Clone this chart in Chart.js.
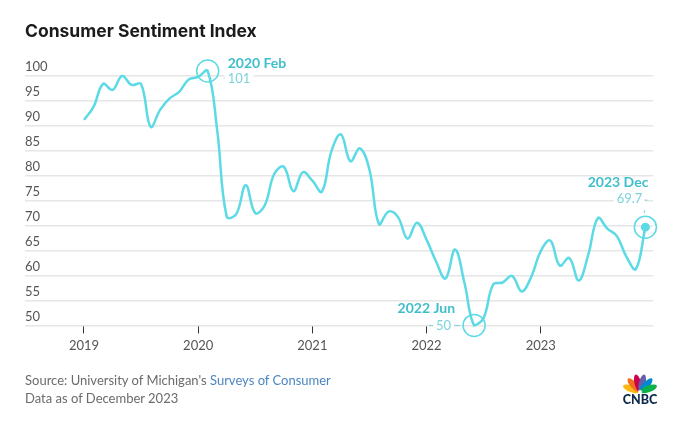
<!DOCTYPE html>
<html>
<head>
<meta charset="utf-8">
<script src="https://cdn.jsdelivr.net/npm/chart.js@4.4.1/dist/chart.umd.min.js"></script>
<style>
    html, body { margin: 0; padding: 0; background: #fff; }
    #wrap { position: relative; width: 673px; height: 426px; overflow: hidden; }
    #chart { position: absolute; left: 0; top: 0; }
    .title { position: absolute; left: 25px; top: 20px; font: 700 17.5px Inter, sans-serif; color: #1b1b1b; letter-spacing: 0px; }
    .foot { position: absolute; left: 25px; font: 400 13px Lato, sans-serif; color: #6b6b6b; }
    .foot a { color: #4b85c2; text-decoration: none; }
    #logo { position: absolute; left: 619px; top: 370px; }
</style>
</head>
<body>
<div id="wrap">
    <canvas id="chart" width="673" height="426"></canvas>
    <div class="title">Consumer Sentiment Index</div>
    <div class="foot" style="top:372px">Source: University of Michigan's <a>Surveys of Consumer</a></div>
    <div class="foot" style="top:390px">Data as of December 2023</div>
    <svg id="logo" width="42" height="38" viewBox="0 0 42 38">
        <g transform="translate(21,22)">
            <ellipse cx="0" cy="-9" rx="3.3" ry="9" fill="#fcb711" transform="rotate(-70)"/>
            <ellipse cx="0" cy="-9" rx="3.3" ry="9" fill="#f37021" transform="rotate(-42)"/>
            <ellipse cx="0" cy="-9" rx="3.3" ry="9" fill="#cc004c" transform="rotate(-14)"/>
            <ellipse cx="0" cy="-9" rx="3.3" ry="9" fill="#6460aa" transform="rotate(14)"/>
            <ellipse cx="0" cy="-9" rx="3.3" ry="9" fill="#0089d0" transform="rotate(42)"/>
            <ellipse cx="0" cy="-9" rx="3.3" ry="9" fill="#0db14b" transform="rotate(70)"/>
            <circle cx="0" cy="0" r="2" fill="#fff"/>
        </g>
        <text x="21" y="34" text-anchor="middle" font-family="Lato, sans-serif" font-weight="900" font-size="12.5" fill="#0b2a4a">CNBC</text>
    </svg>
</div>
<script>
// monthly index values, Jan..Dec
const years = ['2019', '2020', '2021', '2022', '2023'];
const values2019 = [91.2, 93.8, 98.4, 97.2, 100.0, 98.2, 98.4, 89.8, 93.2, 95.5, 96.8, 99.3];
const values2020 = [99.8, 101.0, 89.1, 71.8, 72.3, 78.1, 72.5, 74.1, 80.4, 81.8, 76.9, 80.7];
const values2021 = [79.0, 76.8, 84.9, 88.3, 82.9, 85.5, 81.2, 70.3, 72.8, 71.7, 67.4, 70.6];
const values2022 = [67.2, 62.8, 59.4, 65.2, 58.4, 50.0, 51.5, 58.2, 58.6, 59.9, 56.8, 59.7];
const values2023 = [64.9, 67.0, 62.0, 63.5, 59.0, 64.2, 71.5, 69.4, 67.9, 63.8, 61.3, 69.7];
const yTicks = [50, 55, 60, 65, 70, 75, 80, 85, 90, 95, 100];

const highlights = [
    { year: '2020', month: 'Feb', pos: 'right' },
    { year: '2022', month: 'Jun', pos: 'left' },
    { year: '2023', month: 'Dec', pos: 'above' }
];

const monthNames = ['Jan', 'Feb', 'Mar', 'Apr', 'May', 'Jun', 'Jul', 'Aug', 'Sep', 'Oct', 'Nov', 'Dec'];
const allValues = [].concat(values2019, values2020, values2021, values2022, values2023);
const points = allValues.map((v, i) => ({ x: i, y: v }));
const yearStarts = years.map((y, i) => i * 12);

const lineColor = '#5cdae5';
const labelColor = '#3fbfcb';
const valueColor = '#7ad3db';

function fmt(v) { return Number.isInteger(v) ? String(v) : v.toFixed(1); }

const highlightPlugin = {
    id: 'highlights',
    afterDatasetsDraw(chart) {
        const ctx = chart.ctx;
        const xs = chart.scales.x, ys = chart.scales.y;
        highlights.forEach(h => {
            const idx = years.indexOf(h.year) * 12 + monthNames.indexOf(h.month);
            const val = allValues[idx];
            const px = xs.getPixelForValue(idx), py = ys.getPixelForValue(val);
            ctx.save();
            ctx.strokeStyle = lineColor;
            ctx.lineWidth = 1.5;
            ctx.beginPath();
            ctx.arc(px, py, 11, 0, Math.PI * 2);
            ctx.stroke();

            const title = h.year + ' ' + h.month;
            const text = fmt(val);
            ctx.textBaseline = 'middle';
            let tx, ty, vx, vy, align;
            if (h.pos === 'right') {
                align = 'left'; tx = px + 20; ty = py - 8; vx = px + 20; vy = py + 8;
            } else if (h.pos === 'left') {
                align = 'right'; tx = px - 19; ty = py - 17; vx = px - 23; vy = py;
            } else {
                align = 'right'; tx = px + 3; ty = py - 45; vx = px - 3; vy = py - 28;
                ctx.fillStyle = lineColor;
                ctx.beginPath();
                ctx.arc(px, py, 4.5, 0, Math.PI * 2);
                ctx.fill();
            }
            ctx.textAlign = align;
            ctx.font = '400 13px Lato, sans-serif';
            const w = ctx.measureText(text).width;
            const left = align === 'left' ? vx : vx - w;
            ctx.fillStyle = '#fff';
            ctx.fillRect(left - 3, vy - 7, w + 6, 14);
            ctx.fillStyle = valueColor;
            ctx.fillText(text, vx, vy);

            // small dashes next to the value
            ctx.strokeStyle = valueColor;
            ctx.lineWidth = 1;
            ctx.beginPath();
            if (h.pos === 'right') {
                ctx.moveTo(left - 4, vy - 1); ctx.lineTo(left - 3, vy - 1);
            } else if (h.pos === 'left') {
                ctx.moveTo(left - 7, vy); ctx.lineTo(left - 3, vy);
                ctx.moveTo(left + w + 3, vy); ctx.lineTo(left + w + 9, vy);
            } else {
                ctx.moveTo(left + w + 2, vy + 1); ctx.lineTo(left + w + 5, vy + 1);
                ctx.moveTo(px - 1, py - 17); ctx.lineTo(px - 1, py - 14);
            }
            ctx.stroke();

            ctx.font = '700 14px Lato, sans-serif';
            ctx.fillStyle = labelColor;
            ctx.fillText(title, tx, ty);
            ctx.restore();
        });
    }
};

new Chart(document.getElementById('chart'), {
    type: 'line',
    data: {
        datasets: [{
            data: points,
            borderColor: lineColor,
            borderWidth: 2.5,
            pointRadius: 0,
            tension: 0.4,
            clip: false
        }]
    },
    options: {
        responsive: false,
        animation: false,
        layout: { padding: { left: 25, right: 20, top: 66, bottom: 67 } },
        plugins: { legend: { display: false }, tooltip: { enabled: false } },
        scales: {
            x: {
                type: 'linear',
                min: -6.2,
                max: 59.8,
                afterBuildTicks: s => { s.ticks = yearStarts.map(v => ({ value: v })); },
                ticks: {
                    autoSkip: false,
                    maxRotation: 0,
                    padding: 5,
                    color: '#555',
                    font: { family: 'Lato, sans-serif', size: 13 },
                    callback: v => years[yearStarts.indexOf(v)]
                },
                grid: { drawOnChartArea: false, drawTicks: true, tickLength: 8, color: '#333', lineWidth: 1 },
                border: { display: false }
            },
            y: {
                min: 50,
                max: 102,
                afterBuildTicks: s => { s.ticks = yTicks.map(v => ({ value: v })); },
                ticks: {
                    mirror: true,
                    padding: 0,
                    labelOffset: -9,
                    color: '#555',
                    font: { family: 'Lato, sans-serif', size: 13 },
                    callback: v => String(v)
                },
                grid: { color: '#e6e6e6', lineWidth: 1.5, drawTicks: false },
                border: { display: false }
            }
        }
    },
    plugins: [highlightPlugin]
});
</script>
</body>
</html>
